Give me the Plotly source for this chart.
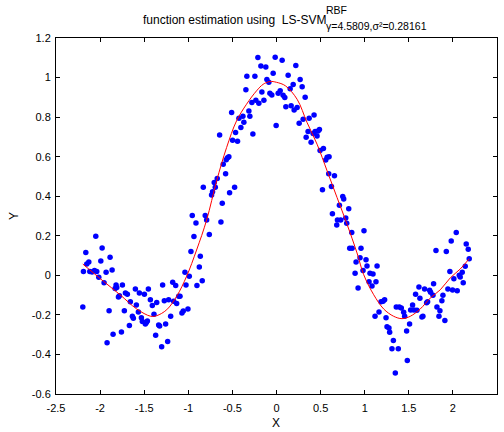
import plotly.graph_objects as go

# ---------------- data ----------------
x_pts = [-2.196,-2.189,-2.162,-2.151,-2.128,-2.117,-2.091,-2.064,-2.049,-2.038,-2.015,-1.992,-1.977,-1.955,-1.932,-1.921,-1.898,-1.887,-1.864,-1.853,-1.830,-1.819,-1.811,-1.792,-1.781,-1.758,-1.747,-1.725,-1.713,-1.691,-1.668,-1.657,-1.634,-1.623,-1.600,-1.589,-1.566,-1.555,-1.532,-1.521,-1.498,-1.487,-1.475,-1.464,-1.453,-1.430,-1.408,-1.389,-1.370,-1.358,-1.336,-1.325,-1.302,-1.291,-1.272,-1.257,-1.234,-1.223,-1.200,-1.177,-1.166,-1.143,-1.132,-1.109,-1.094,-1.072,-1.057,-1.038,-1.026,-1.004,-0.989,-0.970,-0.955,-0.936,-0.913,-0.902,-0.875,-0.864,-0.842,-0.830,-0.808,-0.792,-0.762,-0.736,-0.725,-0.706,-0.694,-0.672,-0.645,-0.630,-0.615,-0.604,-0.577,-0.570,-0.555,-0.540,-0.532,-0.509,-0.498,-0.475,-0.464,-0.442,-0.426,-0.404,-0.381,-0.370,-0.347,-0.336,-0.313,-0.302,-0.279,-0.268,-0.245,-0.234,-0.211,-0.200,-0.177,-0.166,-0.143,-0.121,-0.109,-0.087,-0.075,-0.053,-0.038,-0.015,-0.004,0.019,0.042,0.064,0.075,0.094,0.106,0.132,0.155,0.166,0.189,0.200,0.219,0.234,0.257,0.268,0.291,0.302,0.325,0.336,0.358,0.370,0.392,0.415,0.426,0.438,0.460,0.472,0.487,0.494,0.521,0.532,0.558,0.574,0.592,0.596,0.623,0.634,0.657,0.683,0.691,0.713,0.728,0.751,0.762,0.785,0.796,0.819,0.830,0.853,0.857,0.891,0.902,0.925,0.947,0.958,0.981,0.992,1.015,1.026,1.049,1.060,1.083,1.094,1.117,1.128,1.140,1.162,1.185,1.208,1.226,1.242,1.253,1.275,1.283,1.309,1.325,1.347,1.358,1.381,1.392,1.415,1.442,1.453,1.475,1.483,1.509,1.521,1.543,1.558,1.577,1.592,1.615,1.626,1.649,1.660,1.679,1.702,1.713,1.736,1.747,1.774,1.781,1.808,1.819,1.842,1.853,1.875,1.887,1.909,1.925,1.943,1.966,1.981,1.996,2.011,2.038,2.049,2.072,2.083,2.106,2.117,2.140,2.151,2.174,2.185]
y_pts = [-0.160,0.020,0.116,0.057,0.067,0.020,0.017,0.025,0.197,0.020,-0.010,0.072,0.138,-0.037,0.015,-0.341,-0.179,0.091,0.027,-0.298,-0.067,-0.049,-0.061,-0.110,-0.103,-0.287,-0.049,-0.179,-0.089,-0.096,-0.254,-0.133,-0.207,-0.217,-0.069,-0.150,-0.185,-0.089,-0.214,-0.233,-0.096,-0.246,-0.238,-0.231,-0.069,-0.123,-0.153,-0.197,-0.303,-0.137,-0.251,-0.256,-0.361,-0.049,-0.128,-0.246,-0.334,-0.123,-0.207,-0.035,-0.131,-0.052,-0.143,-0.106,-0.106,-0.190,-0.180,0.015,-0.049,-0.170,-0.005,0.121,0.302,0.196,0.265,-0.052,0.042,0.096,-0.027,0.445,0.302,0.280,0.207,0.406,0.422,0.470,0.445,0.489,0.710,0.270,0.364,0.562,0.513,0.585,0.595,0.599,0.417,0.823,0.683,0.445,0.722,0.678,0.794,0.747,0.804,0.774,0.938,1.007,0.831,0.804,0.874,0.715,1.007,0.885,1.101,0.870,1.059,0.927,0.885,1.054,0.990,0.976,0.921,0.912,1.022,1.103,0.757,0.921,0.933,1.088,0.911,0.899,0.853,1.012,0.943,0.858,0.965,0.836,1.061,0.848,0.769,0.990,0.954,0.789,0.901,0.698,0.727,0.794,0.673,0.717,0.811,0.727,0.705,0.730,0.737,0.631,0.433,0.641,0.583,0.597,0.513,0.599,0.449,0.312,0.503,0.255,0.280,0.354,0.280,0.398,0.386,0.290,0.263,0.337,0.137,0.216,0.137,0.010,0.067,-0.064,0.089,0.137,0.025,0.226,0.079,0.047,-0.032,0.010,-0.054,0.007,-0.207,-0.032,0.047,-0.185,-0.133,-0.131,-0.123,-0.214,-0.260,-0.266,-0.288,-0.371,-0.329,-0.494,-0.160,-0.371,-0.160,-0.165,-0.187,-0.207,-0.282,-0.430,-0.246,-0.175,-0.150,-0.175,-0.096,-0.177,-0.059,-0.116,-0.211,-0.207,-0.069,-0.138,-0.133,-0.076,-0.086,-0.101,-0.042,0.126,-0.160,-0.207,-0.179,-0.128,-0.101,-0.228,0.120,-0.069,0.020,0.174,-0.074,-0.017,0.216,-0.078,0.000,-0.008,0.015,-0.037,0.046,0.159,0.132,0.084]

curve_x = [-2.196,-1.962,-1.774,-1.585,-1.426,-1.358,-1.245,-1.132,-1.019,-0.906,-0.792,-0.679,-0.566,-0.453,-0.340,-0.226,-0.151,-0.075,0.0,0.102,0.234,0.347,0.460,0.574,0.687,0.800,0.913,0.989,1.102,1.215,1.328,1.423,1.517,1.630,1.743,1.857,1.970,2.083,2.185]
curve_y = [0.057,-0.030,-0.098,-0.170,-0.207,-0.204,-0.174,-0.106,-0.005,0.128,0.280,0.477,0.646,0.781,0.865,0.933,0.966,0.980,0.976,0.958,0.890,0.772,0.663,0.528,0.393,0.258,0.113,0.003,-0.098,-0.170,-0.207,-0.219,-0.207,-0.170,-0.115,-0.073,-0.013,0.032,0.084]

x_ticks = [-2.5,-2,-1.5,-1,-0.5,0,0.5,1,1.5,2,2.5]
x_ticklabels = ["-2.5","-2","-1.5","-1","-0.5","0","0.5","1","1.5","2","2.5"]
y_ticks = [-0.6,-0.4,-0.2,0,0.2,0.4,0.6,0.8,1.0,1.2]
y_ticklabels = ["-0.6","-0.4","-0.2","0","0.2","0.4","0.6","0.8","1","1.2"]

title_main = "function estimation using  LS-SVM"
title_sup = "RBF"
title_sub = "γ=4.5809,σ²=0.28161"

FONT = "Liberation Sans, Arial, Helvetica, sans-serif"

fig = go.Figure()
fig.add_trace(go.Scatter(x=x_pts, y=y_pts, mode="markers",
                         marker=dict(color="#0000FF", size=5.5, line=dict(width=0)),
                         showlegend=False, hoverinfo="skip"))
fig.add_trace(go.Scatter(x=curve_x, y=curve_y, mode="lines",
                         line=dict(color="#FF0000", width=1, shape="spline"),
                         showlegend=False, hoverinfo="skip"))

axis_common = dict(showgrid=False, zeroline=False, showline=True, linecolor="black",
                   linewidth=1, ticks="inside", ticklen=4, tickcolor="black",
                   mirror="ticks", tickfont=dict(family=FONT, size=11, color="black"))

fig.update_layout(
    width=504, height=432,
    margin=dict(l=56, r=7, t=38, b=38),
    paper_bgcolor="white", plot_bgcolor="white",
    font=dict(family=FONT, size=11, color="black"),
    xaxis=dict(range=[-2.5, 2.5], tickmode="array", tickvals=x_ticks, ticktext=x_ticklabels,
               ticklabelstandoff=4, **axis_common),
    yaxis=dict(range=[-0.6, 1.2], tickmode="array", tickvals=y_ticks, ticktext=y_ticklabels,
               ticklabelstandoff=2, **axis_common),
    annotations=[
        dict(text=title_main, xref="paper", yref="paper", x=(328-56)/441, y=(394-20)/356,
             xanchor="right", yanchor="middle", showarrow=False,
             font=dict(family=FONT, size=12, color="black")),
        dict(text=title_sup, xref="paper", yref="paper", x=(324-56)/441, y=(394-10)/356,
             xanchor="left", yanchor="middle", showarrow=False,
             font=dict(family=FONT, size=10.5, color="black")),
        dict(text=title_sub, xref="paper", yref="paper", x=(324-56)/441, y=(394-26)/356,
             xanchor="left", yanchor="middle", showarrow=False,
             font=dict(family=FONT, size=10.5, color="black")),
        dict(text="X", xref="paper", yref="paper", x=(276-56)/441, y=(394-423)/356,
             xanchor="center", yanchor="middle", showarrow=False,
             font=dict(family=FONT, size=12, color="black")),
        dict(text="Y", xref="paper", yref="paper", x=(14-56)/441, y=(394-216)/356,
             xanchor="center", yanchor="middle", showarrow=False, textangle=-90,
             font=dict(family=FONT, size=12, color="black")),
    ],
)

fig.write_html("out.html")
